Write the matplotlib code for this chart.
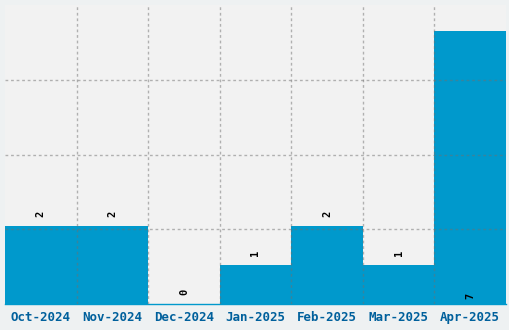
import matplotlib
matplotlib.use('Agg')
import matplotlib.pyplot as plt
import numpy as np

months = ['Oct-2024', 'Nov-2024', 'Dec-2024', 'Jan-2025', 'Feb-2025', 'Mar-2025', 'Apr-2025']
counts = [2, 2, 0, 1, 2, 1, 7]

bar_color = '#0099cc'
tick_color = '#00609c'
y_max = 7.67

fig = plt.figure(figsize=(5.1, 3.3), dpi=100)
fig.patch.set_facecolor('#eef1f2')
ax = fig.add_axes([5 / 510, 26 / 330, 501 / 510, 299 / 330])
ax.set_facecolor('#f2f2f2')

x = np.arange(len(months))
ax.bar(x, counts, width=1.0, color=bar_color, zorder=2)

ax.set_xlim(-0.5, len(months) - 0.5)
ax.set_ylim(0, y_max)

# grid: vertical lines on category boundaries, horizontal at quarters
ax.set_xticks(np.arange(len(months) - 1) + 0.5, minor=True)
ax.set_yticks(np.linspace(0, y_max, 5)[1:-1])
ax.set_yticklabels([])
ax.grid(True, which='minor', axis='x', color='#707070', alpha=0.5,
        linestyle=(0, (2, 2)), linewidth=1, zorder=3)
ax.grid(True, which='major', axis='y', color='#707070', alpha=0.5,
        linestyle=(0, (2, 2)), linewidth=1, zorder=3)
ax.set_axisbelow(False)

ax.set_xticks(x)
ax.set_xticklabels(months, fontfamily='DejaVu Sans Mono', fontweight='bold',
                   fontsize=9, color=tick_color)
ax.tick_params(axis='both', which='both', length=0)
ax.tick_params(axis='x', pad=5)

for s in ['top', 'left', 'right']:
    ax.spines[s].set_visible(False)
ax.spines['bottom'].set_color(bar_color)
ax.spines['bottom'].set_linewidth(1)

# value labels, rotated; put at the bottom when no room above the bar
px = 72 / fig.dpi
for xi, c in zip(x, counts):
    above = c + 1 < y_max
    yv = c if above else 0
    off = (12 if above else 8) * px
    ax.annotate(str(c), (xi, yv), xytext=(0, off), textcoords='offset points',
                ha='center', va='center', rotation=90, fontsize=7.5,
                fontfamily='DejaVu Sans Mono', fontweight='bold',
                color='black', zorder=4)

fig.savefig('out.png', dpi=100, facecolor=fig.get_facecolor())
